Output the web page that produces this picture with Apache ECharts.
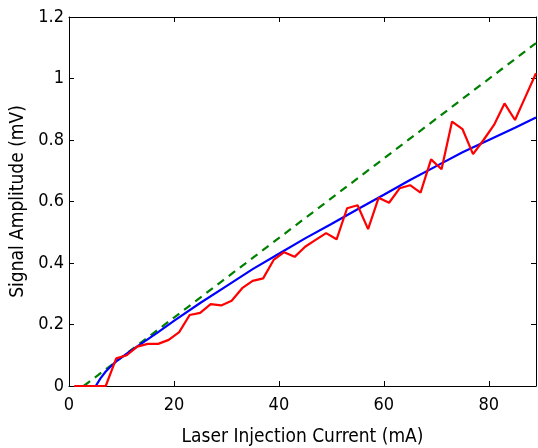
<!DOCTYPE html>
<html>
<head>
<meta charset="utf-8">
<script src="https://cdn.jsdelivr.net/npm/echarts@6/dist/echarts.min.js"></script>
<style>
  html, body { margin: 0; padding: 0; background: #fff; }
  #chart { width: 538px; height: 448px; }
</style>
</head>
<body>
<div id="chart"></div>
<script>
// Measured signal (red), model fit (blue) and linear estimate (green dashed)
var measuredCurrent = [1, 3, 5, 7, 9, 11, 13, 15, 17, 19, 21, 23, 25, 27, 29, 31, 33, 35, 37, 39,
  41, 43, 45, 47, 49, 51, 53, 55, 57, 59, 61, 63, 65, 67, 69, 71, 73, 75, 77, 79, 81, 83, 85, 87, 89];
var measuredSignal = [0, 0, 0, 0, 0.09, 0.10, 0.128, 0.137, 0.137, 0.15, 0.175, 0.231, 0.238, 0.266, 0.262,
  0.277, 0.318, 0.342, 0.35, 0.41, 0.435, 0.42, 0.453, 0.475, 0.497, 0.477, 0.578, 0.588, 0.51, 0.612,
  0.596, 0.643, 0.653, 0.629, 0.737, 0.705, 0.86, 0.835, 0.754, 0.80, 0.849, 0.919, 0.865, 0.941, 1.017];

var fitCurrent = [5.1, 6, 7, 8, 9, 11, 14, 17, 20, 25, 30, 35, 40, 45, 50, 55, 60, 65, 70, 75, 80, 85, 89];
var fitSignal = [0, 0.025, 0.047, 0.064, 0.08, 0.105, 0.14, 0.175, 0.212, 0.27, 0.325, 0.38, 0.43, 0.48,
  0.527, 0.575, 0.622, 0.67, 0.715, 0.76, 0.80, 0.84, 0.873];

var linearCurrent = [2.8, 89];
var linearSignal = [0, 1.115];

var xTicks = [0, 20, 40, 60, 80];
var yTicks = [0, 0.2, 0.4, 0.6, 0.8, 1, 1.2];

function pairs(xs, ys) {
  return xs.map(function (x, i) { return [x, ys[i]]; });
}

var FONT = '"DejaVu Sans Condensed", "DejaVu Sans", sans-serif';
var axisLine = { show: true, onZero: false, lineStyle: { color: '#000', width: 1 } };
var tick = { show: true, inside: true, length: 5, lineStyle: { color: '#000', width: 1 } };

var chart = echarts.init(document.getElementById('chart'), null, { renderer: 'canvas' });
chart.setOption({
  animation: false,
  backgroundColor: '#fff',
  grid: { left: 69, right: 2, top: 17, bottom: 62, containLabel: false, outerBoundsMode: 'none' },
  xAxis: [{
    type: 'value', position: 'bottom', min: xTicks[0], max: 89, interval: 20,
    axisLine: axisLine, axisTick: tick, splitLine: { show: false },
    axisLabel: { color: '#000', fontFamily: FONT, fontSize: 18, margin: 10, showMaxLabel: false },
    name: 'Laser Injection Current (mA)', nameLocation: 'middle', nameGap: 42,
    nameTextStyle: { color: '#000', fontFamily: FONT, fontSize: 19 }
  }, {
    type: 'value', position: 'top', min: xTicks[0], max: 89, interval: 20,
    axisLine: axisLine, axisTick: tick, splitLine: { show: false },
    axisLabel: { show: false }
  }],
  yAxis: [{
    type: 'value', position: 'left', min: yTicks[0], max: yTicks[yTicks.length - 1], interval: 0.2,
    axisLine: axisLine, axisTick: tick, splitLine: { show: false },
    axisLabel: { color: '#000', fontFamily: FONT, fontSize: 18, margin: 5 },
    name: 'Signal Amplitude (mV)', nameLocation: 'middle', nameGap: 41,
    nameTextStyle: { color: '#000', fontFamily: FONT, fontSize: 19 }
  }, {
    type: 'value', position: 'right', min: yTicks[0], max: yTicks[yTicks.length - 1], interval: 0.2,
    axisLine: axisLine, axisTick: tick, splitLine: { show: false },
    axisLabel: { show: false }
  }],
  series: [{
    type: 'line', data: pairs(linearCurrent, linearSignal), symbol: 'none',
    lineStyle: { color: '#008000', width: 2.2, type: [8, 6] }, z: 2
  }, {
    type: 'line', data: pairs(fitCurrent, fitSignal), symbol: 'none', smooth: false,
    lineStyle: { color: '#0000ff', width: 2.2 }, z: 3
  }, {
    type: 'line', data: pairs(measuredCurrent, measuredSignal), symbol: 'none',
    lineStyle: { color: '#ff0000', width: 2.2 }, z: 4
  }]
});
</script>
</body>
</html>
